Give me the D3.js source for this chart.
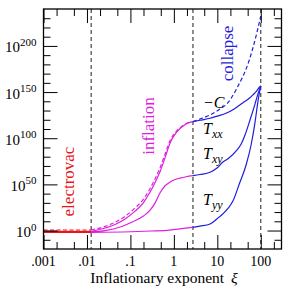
<!DOCTYPE html>
<html><head><meta charset="utf-8">
<script src="https://cdn.jsdelivr.net/npm/d3@7"></script>
<style>
body{margin:0;background:#fff}
svg{display:block}
</style>
</head><body>
<svg id="c" width="286" height="288" font-family="'Liberation Serif','Times New Roman','DejaVu Serif',serif"></svg>
<script>
// ---- data ----
const xTickValues = [0.001, 0.01, 0.1, 1, 10, 100];
const xTickLabels = [".001", ".01", ".1", "1", "10", "100"];
const xMinorValues = [0.002, 0.005, 0.02, 0.05, 0.2, 0.5, 2, 5, 20, 50, 200];
const yTickValues = [0, 50, 100, 150, 200];          // exponents of 10
const yTickLabels = ["0", "50", "100", "150", "200"];
const yMinorValues = [-10, 10, 20, 30, 40, 60, 70, 80, 90, 110, 120, 130, 140, 160, 170, 180, 190, 210, 220, 230];
const phaseBounds = [0.0125, 2.75, 100];             // electrovac | inflation | collapse
const phaseNames = ["electrovac", "inflation", "collapse"];

// -C (dashed), log10 values
const negC_xi = [0.001, 0.0125, 0.0262, 0.0445, 0.0755, 0.128, 0.196, 0.284, 0.37, 0.482, 0.628, 0.818, 1.12, 1.39, 1.91, 2.75, 4.0, 6.8, 11.5, 16.8, 28.4, 53.5, 77, 100];
const negC    = [0.6, 0.6, 4.5, 9, 15.5, 24.5, 33.5, 45.5, 56, 68, 83, 97.5, 107, 111.5, 115.8, 118, 120.8, 125.2, 131.7, 137.4, 154.4, 183.7, 209.7, 232.4];
// T_xx
const Txx_xi = [0.001, 0.0125, 0.0262, 0.0445, 0.0755, 0.128, 0.196, 0.284, 0.37, 0.482, 0.628, 0.818, 1.12, 1.39, 1.91, 2.75, 4.0, 6.8, 10, 15.8, 25, 39, 55, 66, 80, 92, 100];
const Txx    = [-1, -1, 2.7, 6.5, 12.5, 21, 29.8, 41.7, 52, 64, 79, 94.8, 105.7, 110.5, 115.4, 117.9, 119.5, 121.6, 124, 127, 132, 138.5, 143.5, 147, 151, 155, 156.6];
// T_xy
const Txy_xi = [0.001, 0.0125, 0.0262, 0.058, 0.098, 0.196, 0.284, 0.37, 0.482, 0.628, 0.818, 1.12, 1.39, 1.91, 2.75, 4.0, 6.8, 10, 13.3, 18, 27.5, 35.4, 43.4, 56.5, 73.6, 86.2, 100];
const Txy    = [-1.5, -1.5, 0, 3.8, 8.2, 15.5, 22, 30, 41, 48.5, 52.5, 55.5, 56.8, 58.3, 59.4, 60.7, 63.1, 68, 73.9, 78, 86.5, 93.75, 103.5, 119.7, 137, 148, 156.6];
// T_yy
const Tyy_xi = [0.001, 0.0125, 0.1, 0.3, 0.8, 1.5, 2.75, 4.0, 6.8, 10, 13.3, 18, 23, 32, 46.7, 60.5, 73.6, 86.2, 100];
const Tyy    = [-2, -2, -1.3, -0.5, 0.5, 2, 3.5, 4.8, 7.1, 13, 17.9, 24.5, 32.3, 50.4, 72.1, 93.75, 117, 140, 156.6];

// ---- layout ----
const svg = d3.select("#c");
const L = 43.5, R = 281.5, T = 9, B = 249;
const x = d3.scaleLog().domain([0.001, 300]).range([L, R]);
const y = d3.scaleLinear().domain([-20, 240]).range([B, T]);
const phaseColor = d3.scaleOrdinal().domain(phaseNames).range(["#e8141c", "#e01ee0", "#1e1ee0"]);

// dashed phase boundaries
svg.append("g").selectAll("line").data(phaseBounds).join("line")
  .attr("x1", d => x(d)).attr("x2", d => x(d)).attr("y1", T).attr("y2", B)
  .attr("stroke", "#333").attr("stroke-width", 1.1).attr("stroke-dasharray", "4,3");

// curves, split by phase
const line = d3.line().x(d => x(d[0])).y(d => y(d[1])).curve(d3.curveMonotoneX);
function phases(xi, v) {
  const pts = xi.map((d, i) => [d, v[i]]);
  return [
    {name: "electrovac", pts: pts.filter(p => p[0] <= phaseBounds[0])},
    {name: "inflation", pts: pts.filter(p => p[0] >= phaseBounds[0] && p[0] <= phaseBounds[1])},
    {name: "collapse", pts: pts.filter(p => p[0] >= phaseBounds[1])}
  ];
}
const curves = [
  {xi: Tyy_xi, v: Tyy, dash: null},
  {xi: Txy_xi, v: Txy, dash: null},
  {xi: Txx_xi, v: Txx, dash: null},
  {xi: negC_xi, v: negC, dash: "4,2.5"}
];
const cg = svg.append("g").attr("fill", "none");
curves.forEach(c => {
  phases(c.xi, c.v).forEach(s => {
    cg.append("path").attr("d", line(s.pts))
      .attr("stroke", phaseColor(s.name)).attr("stroke-width", 1.2)
      .attr("stroke-dasharray", c.dash);
  });
});

// ticks on all four sides (inward)
function ticks(axis, tr, vals, size) {
  const g = svg.append("g").attr("transform", tr)
    .call(axis.tickValues(vals).tickSize(-size).tickFormat(""));
  g.select(".domain").remove();
  g.selectAll(".tick line").attr("stroke", "#000").attr("stroke-width", 1);
}
ticks(d3.axisBottom(x), `translate(0,${B})`, xTickValues, 14);
ticks(d3.axisBottom(x), `translate(0,${B})`, xMinorValues, 7);
ticks(d3.axisTop(x), `translate(0,${T})`, xTickValues, 14);
ticks(d3.axisTop(x), `translate(0,${T})`, xMinorValues, 7);
ticks(d3.axisLeft(y), `translate(${L},0)`, yTickValues, 14);
ticks(d3.axisLeft(y), `translate(${L},0)`, yMinorValues, 7);
ticks(d3.axisRight(y), `translate(${R},0)`, yTickValues, 14);
ticks(d3.axisRight(y), `translate(${R},0)`, yMinorValues, 7);

svg.append("rect").attr("x", L).attr("y", T).attr("width", R - L).attr("height", B - T)
  .attr("fill", "none").attr("stroke", "#000").attr("stroke-width", 1.3);

// tick labels
svg.append("g").selectAll("text").data(xTickValues).join("text")
  .attr("x", d => x(d)).attr("y", 265.5).attr("text-anchor", "middle")
  .attr("font-size", 14).text((d, i) => xTickLabels[i]);

const yl = svg.append("g").selectAll("text").data(yTickValues).join("text")
  .attr("x", 36.5).attr("y", d => y(d) + 6.5).attr("text-anchor", "end").attr("font-size", 15);
yl.append("tspan").text("10");
yl.append("tspan").attr("font-size", 11).attr("dy", -6.5).text((d, i) => yTickLabels[i]);

// axis title
const xt = svg.append("text").attr("x", 164).attr("y", 282.5).attr("text-anchor", "middle").attr("font-size", 15.5);
xt.append("tspan").text("Inflationary exponent");
xt.append("tspan").attr("dx", 7).attr("font-style", "italic").text("ξ");

// phase labels (rotated)
const phasePos = [[73.5, 181.5], [154, 126], [233, 53.5]];
phaseNames.forEach((n, i) => {
  svg.append("text").attr("transform", `translate(${phasePos[i][0]},${phasePos[i][1]}) rotate(-90)`)
    .attr("text-anchor", "middle").attr("font-size", 17).attr("fill", phaseColor(n)).text(n);
});

// curve labels
svg.append("text").attr("x", 203).attr("y", 108).attr("font-size", 16).attr("font-style", "italic").text("−C");
const tl = [["xx", 134], ["xy", 159], ["yy", 205]];
tl.forEach(([s, yy]) => {
  const t = svg.append("text").attr("x", 203).attr("y", yy).attr("font-size", 16).attr("font-style", "italic");
  t.append("tspan").text("T");
  t.append("tspan").attr("font-size", 12).attr("dy", 4).text(s);
});
</script>
</body></html>
